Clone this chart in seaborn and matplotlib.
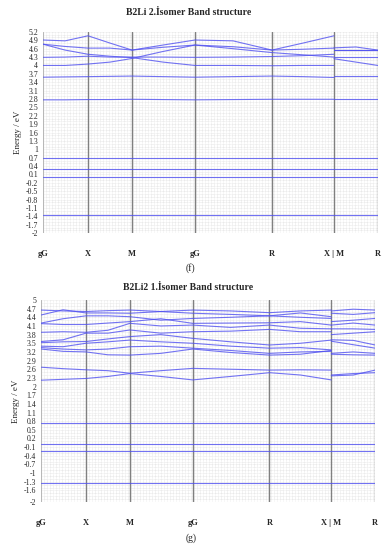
import numpy as np
import pandas as pd
import matplotlib
matplotlib.use("Agg")
import matplotlib.pyplot as plt
from matplotlib.ticker import MultipleLocator, FixedLocator
import seaborn as sns

# ---------------- data ----------------
# k-path distances: gG, mid, X, mid, M, mid, gG, mid, R, mid, X | M, mid, R
k_values = [0, 22, 45, 67, 89, 120, 152, 190, 229, 260, 291, 291, 313, 335]
node_k = [0, 45, 89, 152, 229, 291, 335]
node_labels = ["gG", "X", "M", "gG", "R", "X | M", "R"]
split_index = 11  # discontinuity at X | M

# panel (f): B2Li 2.Isomer
bands_f = {
    "f1": [4.91, 4.88, 5.06, 4.80, 4.55, 4.73, 4.91, 4.88, 4.55, 4.80, 5.06, 4.63, 4.66, 4.55],
    "f2": [4.76, 4.68, 4.62, 4.62, 4.55, 4.65, 4.73, 4.67, 4.55, 4.58, 4.62, 4.55, 4.55, 4.55],
    "f3": [4.76, 4.55, 4.40, 4.33, 4.28, 4.12, 4.00, 4.00, 3.99, 4.00, 4.00, 4.24, 4.12, 4.00],
    "f4": [4.29, 4.30, 4.33, 4.30, 4.30, 4.30, 4.29, 4.30, 4.32, 4.35, 4.40, 4.30, 4.30, 4.30],
    "f5": [4.00, 4.00, 4.05, 4.12, 4.25, 4.50, 4.73, 4.60, 4.46, 4.38, 4.30, 4.55, 4.55, 4.55],
    "f6": [3.58, 3.59, 3.60, 3.61, 3.62, 3.60, 3.58, 3.60, 3.62, 3.60, 3.57, 3.63, 3.63, 3.63],
    "f7": [2.77, 2.77, 2.78, 2.78, 2.79, 2.78, 2.77, 2.78, 2.79, 2.79, 2.79, 2.80, 2.80, 2.80],
}
flat_f = [0.70, 0.29, 0.00, -1.36]

# panel (g): B2Li2 1.Isomer
bands_g = {
    "g1": [4.65, 4.62, 4.60, 4.63, 4.65, 4.60, 4.65, 4.62, 4.56, 4.62, 4.65, 4.62, 4.68, 4.65],
    "g2": [4.48, 4.66, 4.55, 4.55, 4.54, 4.60, 4.54, 4.50, 4.45, 4.55, 4.42, 4.54, 4.50, 4.56],
    "g3": [4.20, 4.35, 4.45, 4.45, 4.42, 4.30, 4.36, 4.40, 4.45, 4.40, 4.36, 4.25, 4.30, 4.36],
    "g4": [4.18, 4.15, 4.15, 4.20, 4.25, 4.35, 4.19, 4.20, 4.21, 4.25, 4.13, 4.13, 4.20, 4.13],
    "g5": [3.88, 3.90, 3.88, 3.95, 4.19, 4.10, 4.13, 4.05, 4.13, 4.02, 4.00, 4.00, 4.00, 3.98],
    "g6": [3.56, 3.62, 3.85, 3.85, 3.96, 3.85, 3.90, 3.92, 3.98, 3.90, 3.90, 3.80, 3.85, 3.90],
    "g7": [3.52, 3.55, 3.56, 3.65, 3.73, 3.80, 3.67, 3.55, 3.44, 3.50, 3.61, 3.62, 3.60, 3.44],
    "g8": [3.40, 3.38, 3.50, 3.55, 3.61, 3.55, 3.50, 3.40, 3.33, 3.35, 3.27, 3.57, 3.45, 3.33],
    "g9": [3.35, 3.30, 3.27, 3.30, 3.38, 3.40, 3.33, 3.25, 3.15, 3.20, 3.22, 3.15, 3.20, 3.15],
    "g10": [3.30, 3.22, 3.20, 3.10, 3.09, 3.15, 3.30, 3.18, 3.09, 3.12, 3.25, 3.12, 3.10, 3.09],
    "g11": [2.67, 2.62, 2.58, 2.55, 2.46, 2.55, 2.63, 2.60, 2.57, 2.58, 2.57, 2.40, 2.45, 2.48],
    "g12": [2.22, 2.25, 2.28, 2.35, 2.45, 2.35, 2.23, 2.35, 2.48, 2.40, 2.23, 2.37, 2.40, 2.57],
}
flat_g = [0.72, 0.02, -0.22, -1.35]

yticks_f = [-2, -1.7, -1.4, -1.1, -0.8, -0.5, -0.2, 0.1, 0.4, 0.7, 1, 1.3, 1.6, 1.9,
            2.2, 2.5, 2.8, 3.1, 3.4, 3.7, 4, 4.3, 4.6, 4.9, 5.2]
yticks_g = [-2, -1.6, -1.3, -1, -0.7, -0.4, -0.1, 0.2, 0.5, 0.8, 1.1, 1.4, 1.7, 2,
            2.3, 2.6, 2.9, 3.2, 3.5, 3.8, 4.1, 4.4, 4.7, 5]

titles = ["B2Li 2.İsomer Band structure", "B2Li2 1.İsomer Band structure"]
captions = ["(f)", "(g)"]


def build_frame(bands, flats):
    rows = []
    for name, vals in bands.items():
        for i, (k, e) in enumerate(zip(k_values, vals)):
            part = "a" if i < split_index else "b"
            rows.append({"k": k, "E": e, "line": f"{name}-{part}"})
    for j, e in enumerate(flats):
        for k in (node_k[0], node_k[-1]):
            rows.append({"k": k, "E": e, "line": f"flat{j}"})
    return pd.DataFrame(rows)


sns.set_theme(style="white")
plt.rcParams["font.family"] = ["Liberation Serif", "DejaVu Serif"]

fig = plt.figure(figsize=(3.88, 5.50), dpi=100)
ax_f = fig.add_axes([0.111, 0.576, 0.863, 0.366])
ax_g = fig.add_axes([0.106, 0.0873, 0.861, 0.3673])

band_color = "#5050f0"

for ax, bands, flats, yt, title, cap, ylim, ty, cy in [
    (ax_f, bands_f, flat_f, yticks_f, titles[0], captions[0], (-2, 5.2), 0.978, 0.513),
    (ax_g, bands_g, flat_g, yticks_g, titles[1], captions[1], (-2, 5.0), 0.477, 0.021),
]:
    df = build_frame(bands, flats)
    ax.set_facecolor("white")
    sns.lineplot(data=df, x="k", y="E", units="line", estimator=None, sort=False,
                 color=band_color, lw=0.8, alpha=0.8, ax=ax, zorder=3)
    ax.set_xlim(node_k[0], node_k[-1])
    ax.set_ylim(*ylim)
    ax.yaxis.set_major_locator(FixedLocator(yt))
    ax.set_yticklabels([f"{v:g}" for v in yt], fontsize=5.6)
    ax.yaxis.set_minor_locator(MultipleLocator(0.1))
    ax.xaxis.set_major_locator(FixedLocator(node_k))
    ax.set_xticklabels(node_labels, fontsize=6, fontweight="bold")
    ax.xaxis.set_minor_locator(MultipleLocator(3))
    ax.tick_params(axis="x", which="both", length=0, pad=12)
    ax.tick_params(axis="y", which="major", length=2, width=0.5, pad=1.5, color="#999999")
    ax.tick_params(axis="y", which="minor", length=0)
    ax.grid(True, which="both", color="#d6d6d6", linestyle=(0, (1, 1.2)), lw=0.4, zorder=0)
    for kk in node_k[1:]:
        ax.axvline(kk, color="#808080", lw=1.0, zorder=2)
    ax.axvline(node_k[0], color="#b8b8b8", lw=0.8, zorder=2)
    for s in ["top", "bottom", "right", "left"]:
        ax.spines[s].set_visible(False)
    ax.set_xlabel("")
    ax.set_ylabel("Energy / eV", fontsize=6.5, labelpad=3)
    fig.text(0.485, ty, title, ha="center", va="center", fontsize=7, fontweight="bold")
    fig.text(0.492, cy, cap, ha="center", va="center", fontsize=7)

fig.savefig("out.png", dpi=100)
